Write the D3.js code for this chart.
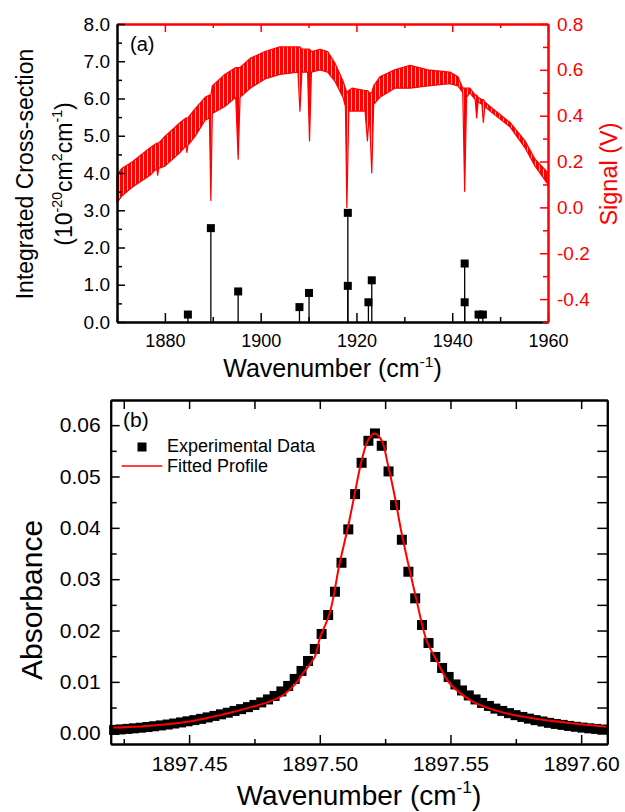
<!DOCTYPE html>
<html>
<head>
<meta charset="utf-8">
<script src="https://cdn.jsdelivr.net/npm/d3@7"></script>
<style>
body { margin: 0; background: #fff; }
svg { display: block; font-family: Arial, "Liberation Sans", sans-serif; }
</style>
</head>
<body>
<svg id="chart" width="625" height="812"></svg>
<script>
// panel (a): line strengths (10^-20 cm^2 cm^-1)
const lineWn = [1884.8, 1889.6, 1895.3, 1908.1, 1910.1, 1918.2, 1918.2, 1922.5, 1923.2, 1942.6, 1942.6, 1945.5, 1946.4];
const lineStrength = [0.20, 2.52, 0.82, 0.40, 0.78, 2.93, 0.97, 0.53, 1.12, 1.57, 0.53, 0.20, 0.20];

// panel (a): detector signal (V), upper and lower edge of the dense trace
const sigWn = [1870.0, 1871.0, 1873.3, 1876.9, 1878.3, 1878.5, 1878.7, 1880.0, 1883.2, 1884.4, 1884.6, 1884.8,
  1886.3, 1888.4, 1889.3, 1889.6, 1889.9, 1892.5, 1894.8, 1895.3, 1895.7, 1897.8, 1900.9, 1904.0,
  1907.8, 1908.2, 1908.6, 1909.8, 1910.2, 1910.6, 1912.4, 1914.0, 1915.5, 1917.2, 1917.7, 1918.0,
  1918.4, 1919.1, 1921.8, 1922.3, 1922.7, 1923.2, 1923.6, 1924.9, 1928.0, 1931.2, 1934.9, 1939.5,
  1941.2, 1942.2, 1942.6, 1943.0, 1943.7, 1944.8, 1945.1, 1945.4, 1946.2, 1946.5, 1946.8, 1947.9,
  1952.1, 1955.2, 1957.3, 1960.0];
const sigHi = [0.14, 0.17, 0.20, 0.26, 0.28, 0.28, 0.28, 0.31, 0.37, 0.39, 0.39, 0.39,
  0.43, 0.48, 0.49, 0.49, 0.53, 0.58, 0.61, 0.61, 0.61, 0.65, 0.68, 0.70,
  0.70, 0.70, 0.69, 0.69, 0.69, 0.68, 0.69, 0.68, 0.63, 0.55, 0.52, 0.50,
  0.51, 0.52, 0.51, 0.51, 0.50, 0.50, 0.53, 0.57, 0.60, 0.62, 0.60, 0.59,
  0.57, 0.52, 0.52, 0.52, 0.52, 0.49, 0.49, 0.48, 0.47, 0.47, 0.46, 0.44,
  0.37, 0.29, 0.21, 0.15];
const sigLo = [0.02, 0.05, 0.09, 0.14, 0.17, 0.14, 0.17, 0.18, 0.24, 0.27, 0.24, 0.27,
  0.31, 0.38, 0.39, 0.03, 0.41, 0.44, 0.48, 0.21, 0.48, 0.52, 0.56, 0.58,
  0.59, 0.42, 0.59, 0.59, 0.29, 0.59, 0.60, 0.59, 0.55, 0.48, 0.44, 0.00,
  0.42, 0.42, 0.42, 0.29, 0.42, 0.15, 0.45, 0.48, 0.52, 0.52, 0.53, 0.54,
  0.53, 0.50, 0.07, 0.48, 0.50, 0.47, 0.39, 0.46, 0.45, 0.37, 0.44, 0.42,
  0.35, 0.26, 0.18, 0.10];

// panel (b): experimental absorbance
const absWn = [1897.4213, 1897.4238, 1897.4264, 1897.4289, 1897.4315, 1897.4341, 1897.4366, 1897.4392,
  1897.4418, 1897.4443, 1897.4469, 1897.4494, 1897.4520, 1897.4546, 1897.4571, 1897.4597, 1897.4622,
  1897.4648, 1897.4674, 1897.4699, 1897.4725, 1897.4750, 1897.4776, 1897.4802, 1897.4827, 1897.4853,
  1897.4879, 1897.4904, 1897.4930, 1897.4955, 1897.4981, 1897.5007, 1897.5032, 1897.5058, 1897.5083,
  1897.5109, 1897.5135, 1897.5160, 1897.5186, 1897.5211, 1897.5237, 1897.5263, 1897.5288, 1897.5314,
  1897.5339, 1897.5365, 1897.5391, 1897.5416, 1897.5442, 1897.5468, 1897.5493, 1897.5519, 1897.5544,
  1897.5570, 1897.5596, 1897.5621, 1897.5647, 1897.5672, 1897.5698, 1897.5724, 1897.5749, 1897.5775,
  1897.5800, 1897.5826, 1897.5852, 1897.5877, 1897.5903, 1897.5929, 1897.5954, 1897.5980, 1897.6005,
  1897.6031, 1897.6057, 1897.6082];
const absVal = [0.00064, 0.00074, 0.00084, 0.00095, 0.00107, 0.00121, 0.00136, 0.00152,
  0.00169, 0.00189, 0.00210, 0.00232, 0.00255, 0.00280, 0.00308, 0.00337, 0.00368,
  0.00399, 0.00434, 0.00469, 0.00508, 0.00551, 0.00600, 0.00658, 0.00726, 0.00814,
  0.00921, 0.01057, 0.01213, 0.01407, 0.01641, 0.01933, 0.02302, 0.02756, 0.03320,
  0.03970, 0.04657, 0.05267, 0.05695, 0.05839, 0.05598, 0.05099, 0.04443, 0.03768,
  0.03145, 0.02627, 0.02108, 0.01757, 0.01485, 0.01271, 0.01096, 0.00950, 0.00833,
  0.00736, 0.00658, 0.00590, 0.00531, 0.00479, 0.00434, 0.00391, 0.00352, 0.00317,
  0.00284, 0.00255, 0.00228, 0.00202, 0.00181, 0.00162, 0.00142, 0.00125, 0.00109,
  0.00095, 0.00084, 0.00072];

// panel (b): fitted profile
const fitWn = [1897.4210, 1897.4312, 1897.4414, 1897.4503, 1897.4592, 1897.4668, 1897.4745, 1897.4809,
  1897.4860, 1897.4905, 1897.4936, 1897.4981, 1897.5000, 1897.5038, 1897.5076, 1897.5108, 1897.5134,
  1897.5159, 1897.5185, 1897.5210, 1897.5236, 1897.5261, 1897.5287, 1897.5312, 1897.5338, 1897.5370,
  1897.5408, 1897.5446, 1897.5497, 1897.5586, 1897.5688, 1897.5815, 1897.5943, 1897.6096];
const fitVal = [0.00109, 0.00132, 0.00175, 0.00230, 0.00323, 0.00415, 0.00518, 0.00619,
  0.00745, 0.00950, 0.01168, 0.01491, 0.01849, 0.02340, 0.03309, 0.04021, 0.04671,
  0.05286, 0.05709, 0.05839, 0.05709, 0.05222, 0.04605, 0.03924, 0.03309, 0.02594,
  0.01816, 0.01427, 0.00973, 0.00615, 0.00420, 0.00292, 0.00206, 0.00128];

// tick values
const aXMajor = [1880, 1900, 1920, 1940, 1960];
const aXMinor = [1870, 1890, 1910, 1930, 1950];
const aYMajor = [0, 1, 2, 3, 4, 5, 6, 7, 8];
const aYMinor = [0.5, 1.5, 2.5, 3.5, 4.5, 5.5, 6.5, 7.5];
const sigMajor = [-0.4, -0.2, 0, 0.2, 0.4, 0.6, 0.8];
const sigMinor = [-0.5, -0.3, -0.1, 0.1, 0.3, 0.5, 0.7];
const bXMajor = [1897.45, 1897.50, 1897.55, 1897.60];
const bXMinor = [1897.425, 1897.475, 1897.525, 1897.575];
const bYMajor = [0, 0.01, 0.02, 0.03, 0.04, 0.05, 0.06];
const bYMinor = [0.005, 0.015, 0.025, 0.035, 0.045, 0.055];

const RED = "#ff0000";
const FONT = "Arial, 'Liberation Sans', sans-serif";
const svg = d3.select("#chart");

// fine vertical comb so the dense trace doesn't look like a flat ribbon
const comb = svg.append("defs").append("pattern").attr("id", "comb")
  .attr("patternUnits", "userSpaceOnUse").attr("width", 4).attr("height", 20);
comb.append("rect").attr("width", 3.3).attr("height", 20).attr("fill", RED);

// draws one axis with inward major + minor ticks
function addAxis(orient, scale, tx, ty, major, minor, majorLen, minorLen, fmt, color, fs, pad) {
  const maker = { bottom: d3.axisBottom, top: d3.axisTop, left: d3.axisLeft, right: d3.axisRight }[orient];
  const g = svg.append("g").attr("transform", `translate(${tx},${ty})`).attr("color", color);
  if (minor.length) {
    g.append("g").call(maker(scale).tickValues(minor).tickSize(-minorLen).tickSizeOuter(0).tickFormat(() => ""));
  }
  const main = g.append("g").call(maker(scale).tickValues(major).tickSize(-majorLen).tickSizeOuter(0)
    .tickPadding(pad).tickFormat(fmt || (() => "")));
  g.selectAll(".domain").attr("stroke-width", 2);
  g.selectAll(".tick line").attr("stroke-width", 1.5);
  g.selectAll("g").attr("font-family", null).attr("font-size", null);
  main.selectAll("text").attr("font-size", fs).attr("font-family", FONT);
  return g;
}

// text with superscript pieces
function richText(g, parts, fs) {
  const t = g.append("text").attr("font-size", fs).attr("font-family", FONT);
  let up = false;
  for (const p of parts) {
    const ts = t.append("tspan").text(p.t);
    if (p.sup) {
      ts.attr("font-size", fs * 0.62).attr("dy", -fs * 0.42);
      up = true;
    } else if (up) {
      ts.attr("dy", fs * 0.42);
      up = false;
    }
  }
  return t;
}

// ---------------- panel (a) ----------------
const pa = { left: 117, right: 548, top: 24, bottom: 322 };
const xA = d3.scaleLinear().domain([1870, 1960]).range([pa.left, pa.right]);
const yA = d3.scaleLinear().domain([0, 8]).range([pa.bottom, pa.top]);
const ySig = d3.scaleLinear().domain([-0.5, 0.8]).range([pa.bottom, pa.top]);

const sig = sigWn.map((w, i) => ({ w: w, hi: sigHi[i], lo: sigLo[i] }));
svg.append("path").datum(sig)
  .attr("d", d3.area().x(d => xA(d.w)).y0(d => ySig(d.lo)).y1(d => ySig(d.hi)))
  .attr("fill", "url(#comb)").attr("stroke", RED).attr("stroke-width", 1.2).attr("stroke-linejoin", "round");

svg.append("g").selectAll("line").data(lineWn).join("line")
  .attr("x1", d => xA(d)).attr("x2", d => xA(d))
  .attr("y1", yA(0)).attr("y2", (d, i) => yA(lineStrength[i]))
  .attr("stroke", "#000").attr("stroke-width", 1.3);
svg.append("g").selectAll("rect").data(lineWn).join("rect")
  .attr("x", d => xA(d) - 4).attr("y", (d, i) => yA(lineStrength[i]) - 4)
  .attr("width", 8).attr("height", 8).attr("fill", "#000");

addAxis("bottom", xA, 0, pa.bottom, aXMajor, aXMinor, 9, 5, d => d, "#000", 18, 12);
addAxis("top", xA, 0, pa.top, aXMajor, aXMinor, 8, 4, null, RED, 18, 3);
addAxis("left", yA, pa.left, 0, aYMajor, aYMinor, 8, 5, d => d.toFixed(1), "#000", 19, 7);
addAxis("right", ySig, pa.right, 0, sigMajor, sigMinor, 8, 5, d => d.toFixed(1), RED, 19, 9);

svg.append("text").attr("x", 130).attr("y", 51).attr("font-size", 20).attr("font-family", FONT).text("(a)");

richText(svg.append("g").attr("transform", `translate(332.5,377)`).attr("text-anchor", "middle"),
  [{ t: "Wavenumber (cm" }, { t: "-1", sup: true }, { t: ")" }], 25);

svg.append("text").attr("transform", "translate(33,174) rotate(-90)").attr("text-anchor", "middle")
  .attr("font-size", 23).attr("font-family", FONT).text("Integrated Cross-section");
richText(svg.append("g").attr("transform", "translate(72,174) rotate(-90)").attr("text-anchor", "middle"),
  [{ t: "(10" }, { t: "-20", sup: true }, { t: "cm" }, { t: "2", sup: true }, { t: "cm" }, { t: "-1", sup: true }, { t: ")" }], 23);

svg.append("text").attr("transform", "translate(617,174) rotate(-90)").attr("text-anchor", "middle")
  .attr("font-size", 23.5).attr("font-family", FONT).attr("fill", RED).text("Signal (V)");

// ---------------- panel (b) ----------------
const pb = { left: 110.7, right: 607.3, top: 400, bottom: 744 };
const xB = d3.scaleLinear().domain([1897.42, 1897.61]).range([pb.left, pb.right]);
const yB = d3.scaleLinear().domain([-0.0021, 0.0649]).range([pb.bottom, pb.top]);

svg.append("g").selectAll("rect").data(absWn).join("rect")
  .attr("x", d => xB(d) - 5).attr("y", (d, i) => yB(absVal[i]) - 5)
  .attr("width", 10).attr("height", 10).attr("fill", "#000");

const fit = fitWn.map((w, i) => [w, fitVal[i]]);
svg.append("path").datum(fit)
  .attr("d", d3.line().x(d => xB(d[0])).y(d => yB(d[1])).curve(d3.curveCatmullRom.alpha(0.5)))
  .attr("fill", "none").attr("stroke", RED).attr("stroke-width", 2);

addAxis("bottom", xB, 0, pb.bottom, bXMajor, bXMinor, 9, 5, d => d.toFixed(2), "#000", 21, 12);
addAxis("top", xB, 0, pb.top, bXMajor, bXMinor, 9, 9, null, "#000", 21, 3);
addAxis("left", yB, pb.left, 0, bYMajor, bYMinor, 9, 6, d => d.toFixed(2), "#000", 21, 10);
addAxis("right", yB, pb.right, 0, bYMajor, bYMinor, 10, 10, null, "#000", 21, 3);

svg.append("text").attr("x", 123).attr("y", 427).attr("font-size", 21).attr("font-family", FONT).text("(b)");

// legend
svg.append("rect").attr("x", 137.5).attr("y", 442.5).attr("width", 9).attr("height", 9).attr("fill", "#000");
svg.append("text").attr("x", 167).attr("y", 452).attr("font-size", 18).attr("font-family", FONT).text("Experimental Data");
svg.append("line").attr("x1", 121.7).attr("x2", 162.3).attr("y1", 466).attr("y2", 466)
  .attr("stroke", RED).attr("stroke-width", 1.5);
svg.append("text").attr("x", 167).attr("y", 472).attr("font-size", 18).attr("font-family", FONT).text("Fitted Profile");

richText(svg.append("g").attr("transform", `translate(359,805)`).attr("text-anchor", "middle"),
  [{ t: "Wavenumber (cm" }, { t: "-1", sup: true }, { t: ")" }], 28);

svg.append("text").attr("transform", "translate(42,600) rotate(-90)").attr("text-anchor", "middle")
  .attr("font-size", 30).attr("font-family", FONT).text("Absorbance");
</script>
</body>
</html>
